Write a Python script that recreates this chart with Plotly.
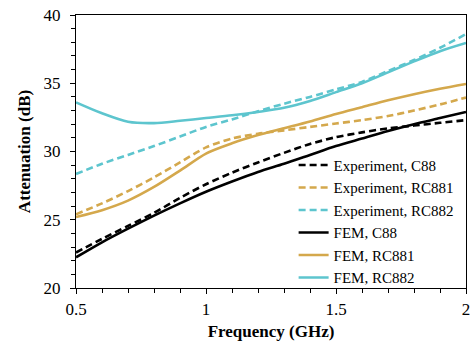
import plotly.graph_objects as go

freq = [0.5, 0.6, 0.7, 0.8, 0.9, 1.0, 1.1, 1.2, 1.3, 1.4, 1.5, 1.6, 1.7, 1.8, 1.9, 2.0]

exp_c88 = [22.6, 23.6, 24.55, 25.5, 26.6, 27.6, 28.45, 29.2, 29.9, 30.55, 31.05, 31.4, 31.7, 31.9, 32.1, 32.3]
exp_rc881 = [25.4, 26.2, 27.1, 28.1, 29.2, 30.3, 30.95, 31.3, 31.55, 31.8, 32.05, 32.3, 32.6, 33.0, 33.45, 33.95]
exp_rc882 = [28.35, 29.1, 29.75, 30.4, 31.1, 31.8, 32.35, 32.95, 33.5, 34.0, 34.55, 35.1, 35.9, 36.7, 37.6, 38.6]
fem_c88 = [22.25, 23.35, 24.35, 25.3, 26.2, 27.05, 27.8, 28.5, 29.1, 29.75, 30.4, 30.95, 31.5, 32.0, 32.45, 32.9]
fem_rc881 = [25.2, 25.7, 26.4, 27.4, 28.6, 29.85, 30.6, 31.2, 31.7, 32.2, 32.75, 33.25, 33.75, 34.2, 34.6, 34.95]
fem_rc882 = [33.6, 32.8, 32.18, 32.08, 32.25, 32.45, 32.65, 32.9, 33.2, 33.7, 34.35, 35.0, 35.8, 36.6, 37.35, 37.95]

names = ["Experiment, C88", "Experiment, RC881", "Experiment, RC882",
         "FEM, C88", "FEM, RC881", "FEM, RC882"]
series = [exp_c88, exp_rc881, exp_rc882, fem_c88, fem_rc881, fem_rc882]
colors = ["#000000", "#D4A84C", "#5DC5CE", "#000000", "#D4A84C", "#5DC5CE"]
dashes = ["7px,4px", "7px,4px", "7px,4px", "solid", "solid", "solid"]

fig = go.Figure()
for n, s, c, d in zip(names, series, colors, dashes):
    fig.add_trace(go.Scatter(
        x=freq, y=s, name=n, mode="lines",
        line=dict(color=c, width=2.6, dash=d, shape="spline", smoothing=0.8),
    ))

FONT = "Times New Roman, Liberation Serif, DejaVu Serif, serif"
fig.update_layout(
    width=473, height=343,
    margin=dict(l=76, r=3, t=15, b=55),
    paper_bgcolor="white", plot_bgcolor="white",
    font=dict(family=FONT, size=15, color="black"),
    showlegend=True,
    legend=dict(
        x=0.558, y=0.51, xanchor="left", yanchor="top",
        bgcolor="rgba(0,0,0,0)", borderwidth=0,
        font=dict(family=FONT, size=15, color="black"),
        itemwidth=30,
    ),
    xaxis=dict(
        range=[0.5, 2], tickvals=[0.5, 1, 1.5, 2], ticktext=["0.5", "1", "1.5", "2"],
        showgrid=False, zeroline=False,
        showline=True, linecolor="black", linewidth=1.2, mirror=True,
        ticks="outside", ticklen=5, tickcolor="black",
        minor=dict(dtick=0.1, tick0=0.5, ticks="outside", ticklen=4, tickcolor="black", showgrid=False),
        tickfont=dict(family=FONT, size=17),
        ticklabeloverflow="allow",
        title=dict(text="<b>Frequency (GHz)</b>", font=dict(family=FONT, size=17), standoff=7),
    ),
    yaxis=dict(
        range=[20, 40], tickvals=[20, 25, 30, 35, 40],
        showgrid=False, zeroline=False,
        showline=True, linecolor="black", linewidth=1.2, mirror=True,
        ticks="outside", ticklen=5, tickcolor="black",
        minor=dict(dtick=1, ticks="outside", ticklen=4, tickcolor="black", showgrid=False),
        tickfont=dict(family=FONT, size=17),
        ticklabelstandoff=6,
        title=dict(text="<b>Attenuation (dB)</b>", font=dict(family=FONT, size=17), standoff=8),
    ),
)

fig.write_html("out.html")
